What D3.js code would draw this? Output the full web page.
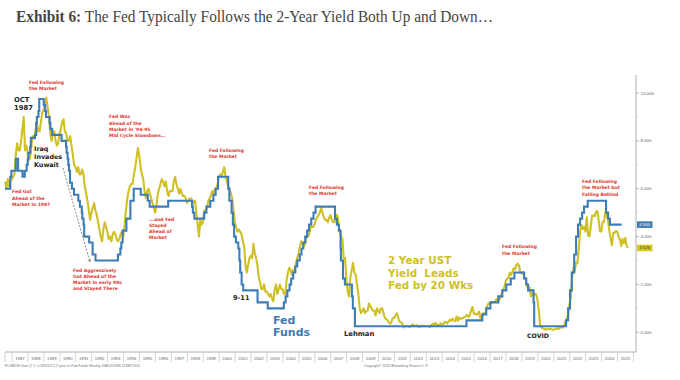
<!DOCTYPE html>
<html><head><meta charset="utf-8">
<script src="https://cdn.jsdelivr.net/npm/d3@7"></script>
<style>html,body{margin:0;padding:0;background:#fff;} svg{display:block}</style>
</head><body>
<svg id="c" width="680" height="380"></svg>
<script>
// ---------- DATA ----------
const axisYears = d3.range(1987, 2026);           // 1987 ... 2025 labels
const rateTicks = [0, 2, 4, 6, 8, 10];
const rateMinorTicks = [1, 3, 5, 7, 9];

// Fed Funds target (upper) : change dates (decimal year) and levels
const fedDates = [1987.0,1987.33,1987.4,1987.68,1987.82,1988.1,1988.24,1988.36,1988.43,1988.47,1988.58,1988.62,1988.88,1988.96,1989.0,1989.1,1989.15,1989.43,1989.52,1989.57,1989.8,1989.85,1989.96,1990.55,1990.83,1990.87,1990.93,1990.97,1991.02,1991.08,1991.2,1991.33,1991.6,1991.7,1991.82,1991.85,1991.93,1991.97,1992.28,1992.5,1992.68,1994.09,1994.24,1994.3,1994.38,1994.62,1994.87,1995.08,1995.52,1995.96,1996.08,1997.24,1998.74,1998.79,1998.88,1999.5,1999.64,1999.88,2000.08,2000.22,2000.37,2001.01,2001.08,2001.22,2001.3,2001.38,2001.49,2001.64,2001.71,2001.76,2001.85,2001.95,2002.85,2003.49,2004.5,2004.61,2004.72,2004.86,2004.96,2005.09,2005.22,2005.34,2005.5,2005.61,2005.72,2005.84,2005.96,2006.08,2006.22,2006.36,2006.49,2007.71,2007.83,2007.95,2008.06,2008.08,2008.21,2008.33,2008.77,2008.83,2008.96,2015.96,2016.96,2017.2,2017.46,2017.96,2018.21,2018.46,2018.74,2018.97,2019.58,2019.71,2019.83,2020.17,2020.21,2022.21,2022.34,2022.46,2022.57,2022.72,2022.84,2022.96,2023.09,2023.22,2023.34,2023.57,2024.72,2024.85,2024.96,2025.7];
const fedRates = [6.0,6.5,6.75,7.25,6.75,6.5,6.75,7.0,7.25,7.5,7.75,8.125,8.25,8.75,9.0,9.25,9.75,9.5,9.25,9.0,8.75,8.5,8.25,8.0,7.75,7.5,7.25,7.0,6.75,6.25,6.0,5.75,5.5,5.25,5.0,4.75,4.5,4.0,3.75,3.25,3.0,3.25,3.5,3.75,4.25,4.75,5.5,6.0,5.75,5.5,5.25,5.5,5.25,5.0,4.75,5.0,5.25,5.5,5.75,6.0,6.5,6.0,5.5,5.0,4.5,4.0,3.75,3.5,3.0,2.5,2.0,1.75,1.25,1.0,1.25,1.5,1.75,2.0,2.25,2.5,2.75,3.0,3.25,3.5,3.75,4.0,4.25,4.5,4.75,5.0,5.25,4.75,4.5,4.25,3.5,3.0,2.25,2.0,1.5,1.0,0.25,0.5,0.75,1.0,1.25,1.5,1.75,2.0,2.25,2.5,2.25,2.0,1.75,1.25,0.25,0.5,1.0,1.75,2.5,3.25,4.0,4.5,4.75,5.0,5.25,5.5,5.0,4.75,4.5,4.5];

// 2-Year UST yield, monthly, starting Aug 1986 (actual dates; plotted 20 weeks forward)
const yieldFirstMonth = [1986, 8];
const leadWeeks = 20;
const yield1986_1989 = [6.3,6.0,6.4,6.1,6.3,
  6.4,6.5,6.6,7.4,7.9,7.6,7.6,8.0,8.5,9.0,7.6,7.8,
  7.5,7.2,7.4,7.9,8.2,8.1,8.5,8.7,8.4,8.4,8.8,9.2,
  9.3,9.6,9.8,9.4,9.0,8.3,8.0,8.3,8.4,8.0,7.8,7.9];
const yield1990_1999 = [8.3,8.5,8.8,8.9,8.4,8.3,8.0,8.0,8.2,7.8,7.4,7.0,
  6.9,6.7,6.9,6.6,6.6,6.8,6.6,6.1,5.8,5.5,5.1,4.7,
  5.0,5.2,5.4,5.1,4.9,4.6,4.3,4.0,3.8,4.3,4.6,4.4,
  4.2,3.9,4.0,3.8,4.1,4.2,4.1,3.9,3.8,3.9,4.1,4.2,
  4.0,4.5,5.1,5.6,5.9,6.1,6.2,6.2,6.6,6.9,7.3,7.7,
  7.4,6.9,6.6,6.4,5.9,5.6,5.9,6.0,5.8,5.6,5.4,5.2,
  5.0,5.3,5.8,6.0,6.2,6.4,6.3,6.1,6.3,5.9,5.7,5.9,
  5.9,5.9,6.3,6.5,6.2,6.0,5.8,6.0,5.8,5.7,5.7,5.6,
  5.4,5.5,5.6,5.6,5.5,5.4,5.5,5.0,4.5,4.0,4.7,4.5,
  4.6,5.1,5.1,5.2,5.5,5.6,5.7,5.9,5.8,6.0,6.0,6.2];
const yield2000_2009 = [6.5,6.6,6.5,6.7,6.9,6.5,6.3,6.1,6.0,5.8,5.6,5.1,
  4.6,4.4,4.2,4.3,4.2,4.1,3.8,3.6,2.8,2.5,2.8,3.1,
  3.2,3.1,3.7,3.3,3.1,2.8,2.3,2.1,1.8,1.8,2.0,1.7,
  1.7,1.6,1.5,1.6,1.4,1.3,1.8,2.0,1.6,1.8,2.0,1.8,
  1.8,1.6,1.6,2.2,2.5,2.7,2.6,2.4,2.6,2.6,2.9,3.1,
  3.3,3.6,3.8,3.7,3.6,3.7,4.0,4.0,4.1,4.4,4.4,4.4,
  4.5,4.7,4.8,4.9,5.0,5.2,5.0,4.8,4.7,4.7,4.6,4.8,
  4.9,4.7,4.6,4.6,4.9,4.9,4.6,4.2,4.0,3.9,3.1,3.1,
  2.2,1.7,1.5,2.3,2.6,2.9,2.5,2.4,2.0,1.6,1.0,0.8,
  0.9,1.0,0.8,0.9,0.9,1.2,1.1,1.0,0.9,0.9,0.7,1.0];
const yield2010_2019 = [0.9,0.8,1.0,1.0,0.8,0.6,0.55,0.5,0.42,0.36,0.45,0.6,
  0.6,0.7,0.8,0.6,0.45,0.42,0.38,0.2,0.25,0.25,0.25,0.24,
  0.22,0.28,0.33,0.27,0.27,0.3,0.23,0.27,0.23,0.28,0.25,0.25,
  0.26,0.25,0.24,0.22,0.3,0.36,0.31,0.39,0.32,0.31,0.28,0.38,
  0.33,0.33,0.44,0.42,0.37,0.46,0.53,0.48,0.57,0.49,0.47,0.66,
  0.48,0.62,0.56,0.58,0.61,0.64,0.67,0.73,0.64,0.73,0.93,1.05,
  0.78,0.78,0.73,0.78,0.87,0.58,0.66,0.8,0.77,0.84,1.11,1.2,
  1.19,1.26,1.27,1.26,1.28,1.38,1.35,1.33,1.47,1.6,1.78,1.89,
  2.14,2.25,2.27,2.49,2.4,2.53,2.67,2.63,2.81,2.87,2.79,2.49,
  2.46,2.52,2.27,2.27,1.95,1.75,1.87,1.5,1.63,1.52,1.61,1.58];
const yield2020_2025 = [1.31,0.86,0.25,0.2,0.16,0.15,0.11,0.13,0.13,0.14,0.15,0.12,
  0.11,0.13,0.16,0.16,0.14,0.25,0.19,0.2,0.28,0.48,0.57,0.73,
  1.18,1.44,2.28,2.7,2.56,2.92,2.89,3.45,4.22,4.48,4.31,4.41,
  4.21,4.81,4.03,4.01,4.4,4.87,4.88,4.85,5.04,5.07,4.68,4.23,
  4.21,4.62,4.62,5.0,4.87,4.71,4.26,3.91,3.64,4.17,4.15,4.24,
  4.2,3.99,3.89,3.6,3.9,3.72,3.94,3.62,3.526];

const titleBold = "Exhibit 6:";
const titleRest = " The Fed Typically Follows the 2-Year Yield Both Up and Down\u2026";

// ---------- BUILD ----------
const yieldValues = [].concat(yield1986_1989, yield1990_1999, yield2000_2009, yield2010_2019, yield2020_2025);
const leadYears = leadWeeks * 7 / 365.25;
const yieldSeries = yieldValues.map((v, i) => ({
  t: yieldFirstMonth[0] + (yieldFirstMonth[1] - 1 + i + 0.5) / 12 + leadYears, v }));
const fedSeries = fedDates.map((t, i) => ({ t, v: fedRates[i] }));

const BLUE = "#3e7cb6", YELLOW = "#cfc125", RED = "#e2352b";

const svg = d3.select("#c");
const x = d3.scaleLinear().domain([1987, 2026.6]).range([5, 636]);
const y = d3.scaleLinear().domain([0, 10]).range([332.3, 93]);

// title
const tt = svg.append("text").attr("x", 16).attr("y", 22)
  .attr("font-family", "Liberation Serif, DejaVu Serif, serif").attr("font-size", 17)
  .attr("fill", "#444").attr("textLength", 477).attr("lengthAdjust", "spacingAndGlyphs");
tt.append("tspan").attr("font-weight", "bold").text(titleBold);
tt.append("tspan").text(titleRest);

// axes frame
svg.append("line").attr("x1", 636).attr("x2", 636).attr("y1", 75).attr("y2", 352)
  .attr("stroke", "#9a9a9a").attr("stroke-width", 0.8);
svg.append("line").attr("x1", 5).attr("x2", 636).attr("y1", 352).attr("y2", 352)
  .attr("stroke", "#9a9a9a").attr("stroke-width", 0.8);

// right axis
const ra = svg.append("g").attr("font-family", "Liberation Sans, Arial, sans-serif")
  .attr("font-size", 4.4).attr("fill", "#666");
rateTicks.forEach(v => {
  ra.append("line").attr("x1", 636).attr("x2", 639).attr("y1", y(v)).attr("y2", y(v))
    .attr("stroke", "#888").attr("stroke-width", 0.6);
  ra.append("text").attr("x", 640.5).attr("y", y(v)).attr("dy", "0.35em").text(d3.format(".3f")(v));
});
rateMinorTicks.forEach(v => {
  ra.append("line").attr("x1", 636).attr("x2", 638).attr("y1", y(v)).attr("y2", y(v))
    .attr("stroke", "#aaa").attr("stroke-width", 0.5);
});

// bottom year cells
const ba = svg.append("g");
ba.append("line").attr("x1", 5).attr("x2", 5).attr("y1", 352).attr("y2", 362)
  .attr("stroke", "#bbb").attr("stroke-width", 0.6);
axisYears.forEach(yr => {
  ba.append("line").attr("x1", x(yr + 0.44)).attr("x2", x(yr + 0.44)).attr("y1", 352).attr("y2", 362)
    .attr("stroke", "#bbb").attr("stroke-width", 0.6);
  ba.append("text").attr("x", x(yr + 0.94)).attr("y", 359.5).attr("text-anchor", "middle")
    .attr("font-family", "Liberation Sans, Arial, sans-serif").attr("font-size", 4.3)
    .attr("fill", "#666").text(yr);
});
ba.append("line").attr("x1", x(2026.44)).attr("x2", x(2026.44)).attr("y1", 352).attr("y2", 362)
  .attr("stroke", "#bbb").attr("stroke-width", 0.6);

svg.append("text").attr("x", 5).attr("y", 366.5).attr("font-family", "Liberation Sans, Arial, sans-serif")
  .attr("font-size", 3.5).attr("fill", "#777")
  .text("FLGBDW Govt (T 2 \u215E 08/31/27) 2 year vs Fed Funds   Weekly 18AUG1986-11SEP2025");
svg.append("text").attr("x", 364).attr("y", 366.5).attr("font-family", "Liberation Sans, Arial, sans-serif")
  .attr("font-size", 3.5).attr("fill", "#777").text("Copyright\u00A9 2025 Bloomberg Finance L.P.");

// lines
const yLine = d3.line().x(d => x(d.t)).y(d => y(d.v)).curve(d3.curveLinear);
svg.append("path").datum(yieldSeries).attr("d", yLine).attr("fill", "none")
  .attr("stroke", YELLOW).attr("stroke-width", 2.1).attr("stroke-linejoin", "round");
const fLine = d3.line().x(d => x(d.t)).y(d => y(d.v)).curve(d3.curveStepAfter);
svg.append("path").datum(fedSeries).attr("d", fLine).attr("fill", "none")
  .attr("stroke", BLUE).attr("stroke-width", 2.1);

// last value boxes
function valueBox(v, fill, txtColor, label) {
  const cy = y(v);
  svg.append("rect").attr("x", 637).attr("y", cy - 3.3).attr("width", 15.5).attr("height", 6.6)
    .attr("fill", fill);
  svg.append("text").attr("x", 644.7).attr("y", cy).attr("dy", "0.35em").attr("text-anchor", "middle")
    .attr("font-family", "Liberation Sans, Arial, sans-serif").attr("font-size", 4.4)
    .attr("fill", txtColor).text(label);
}
valueBox(fedRates[fedRates.length - 1], BLUE, "#fff", d3.format(".3f")(fedRates[fedRates.length - 1]));
valueBox(yieldValues[yieldValues.length - 1], "#d8ca1c", "#333", d3.format(".3f")(yieldValues[yieldValues.length - 1]));

// dashed arrow
const defs = svg.append("defs");
defs.append("marker").attr("id", "ah").attr("viewBox", "0 0 10 10").attr("refX", 9).attr("refY", 5)
  .attr("markerWidth", 5).attr("markerHeight", 5).attr("orient", "auto")
  .append("path").attr("d", "M0,1 L9,5 L0,9").attr("fill", "none").attr("stroke", "#555").attr("stroke-width", 1.5);
svg.append("line").attr("x1", 63).attr("y1", 168).attr("x2", 90).attr("y2", 262)
  .attr("stroke", "#555").attr("stroke-width", 0.7).attr("stroke-dasharray", "2,1.5")
  .attr("marker-end", "url(#ah)");

// annotations
function label(lines, x0, y0, size, color, lh) {
  const t = svg.append("text").attr("font-family", "DejaVu Sans, Verdana, sans-serif")
    .attr("font-weight", "bold").attr("font-size", size).attr("fill", color)
    .attr("xml:space", "preserve").style("white-space", "pre");
  lines.forEach((s, i) => t.append("tspan").attr("x", x0).attr("y", y0 + i * lh).attr("dy", "0.35em").text(s));
}
const rs = 4.5, rl = 6.3;
label(["Fed Following", "the Market"], 29, 82, rs, RED, 6.2);
label(["Fed Got", "Ahead of the", "Market in 1987"], 12, 191.7, rs, RED, rl);
label(["Fed Was", "Ahead of the", "Market in '94-95", "Mid Cycle Slowdown..."], 109, 116.7, rs, RED, rl);
label(["...and Fed", "Stayed", "Ahead of", "Market"], 149, 219, rs, RED, rl);
label(["Fed Aggressively", "Got Ahead of the", "Market in early 90s", "and Stayed There"], 73, 270, rs, RED, rl);
label(["Fed Following", "the Market"], 209, 150.7, rs, RED, 6.1);
label(["Fed Following", "the Market"], 309, 187.3, rs, RED, 6.1);
label(["Fed Following", "the Market"], 502, 246.7, rs, RED, 6.3);
label(["Fed Following", "the Market but", "Falling Behind"], 582, 181, rs, RED, 6.6);

label(["OCT", "1987"], 14, 99.7, 6.8, "#222", 8.1);
label(["Iraq", "Invades", "Kuwait"], 34, 149, 6.4, "#222", 8);
label(["9-11"], 233, 297.3, 6.6, "#222", 8);
label(["Lehman"], 344, 334, 6.8, "#222", 8);
label(["COVID"], 527, 335.7, 6.2, "#222", 8);
label(["Fed", "Funds"], 273, 320, 11, BLUE, 12.5);
label(["2 Year UST", "Yield  Leads", "Fed by 20 Wks"], 388, 260, 10.4, YELLOW, 12.9);
</script>
</body></html>
